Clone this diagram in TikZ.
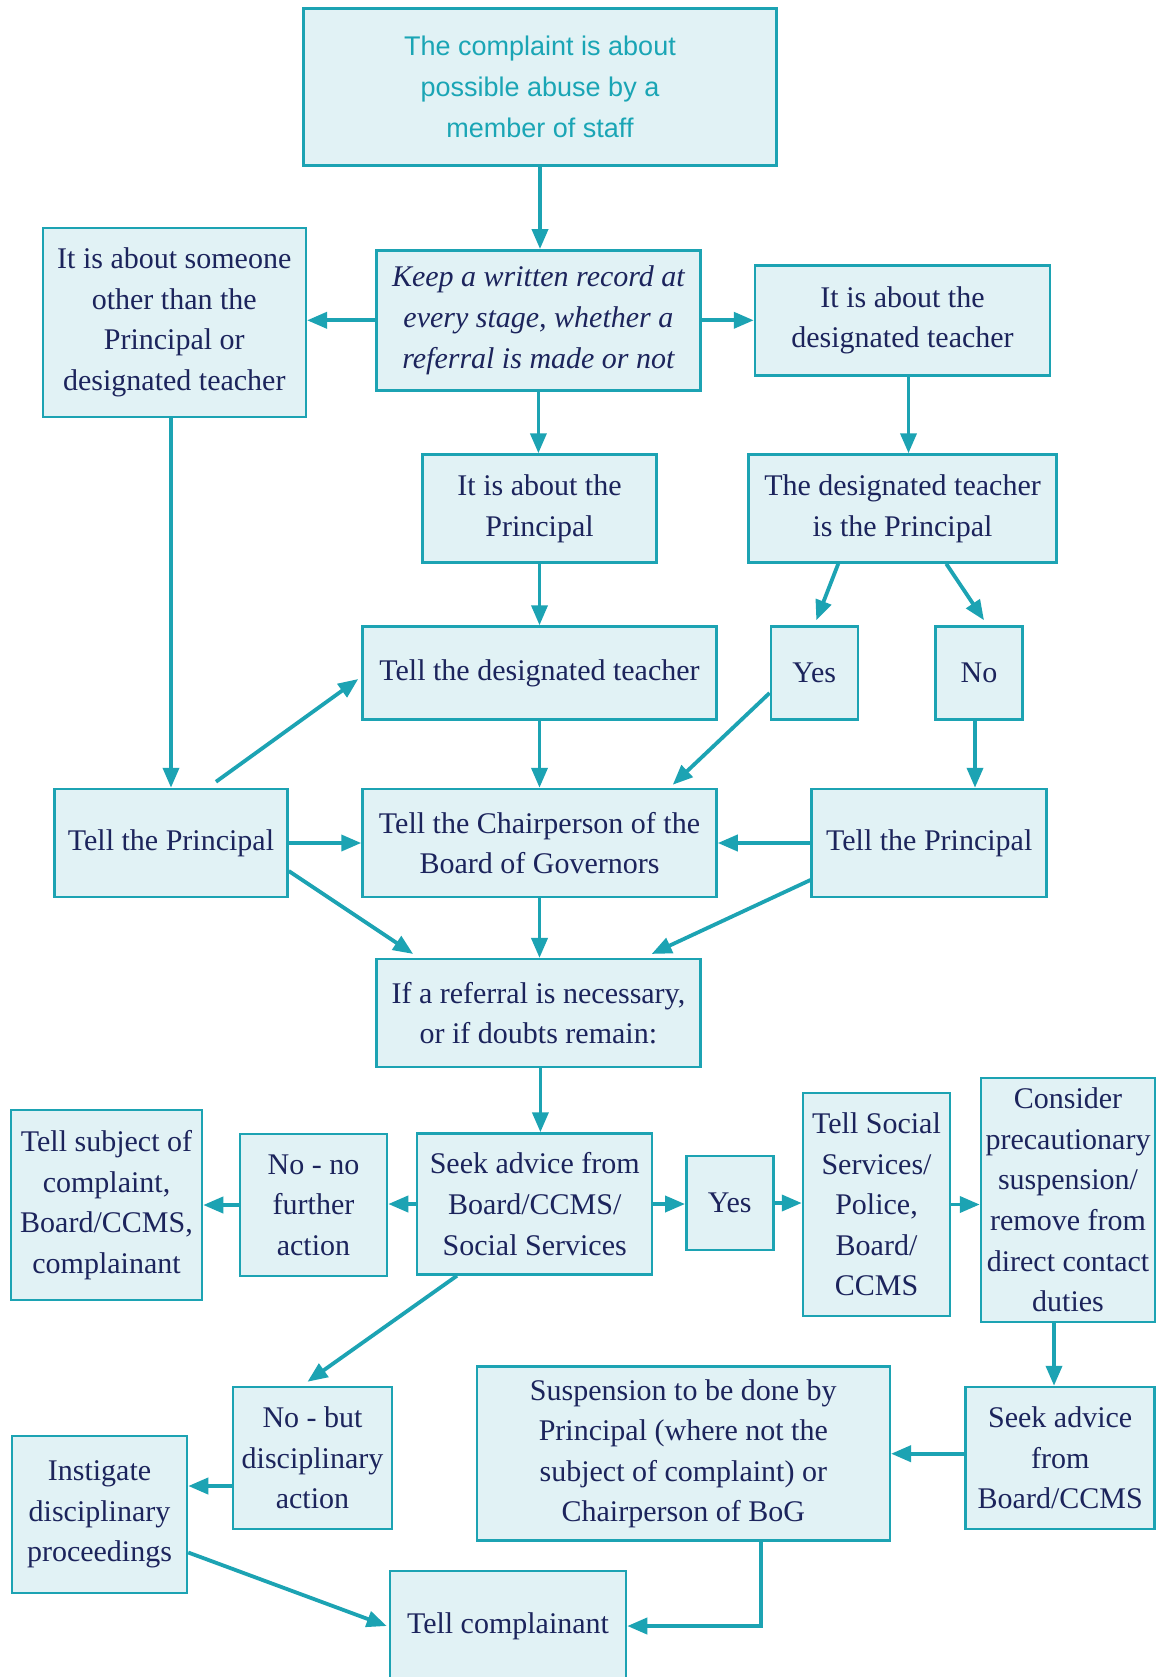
\documentclass[tikz,border=0pt]{standalone}
\usepackage{fontspec}
\setmainfont{Liberation Serif}
\setsansfont{Liberation Sans}
\usetikzlibrary{arrows.meta}
\definecolor{boxfill}{HTML}{E1F2F5}
\definecolor{boxline}{HTML}{1CA3B3}
\definecolor{txt}{HTML}{1C245C}
\definecolor{toptxt}{HTML}{1AA5B5}
\tikzset{
  box/.style={draw=boxline, fill=boxfill, line width=2.5pt, inner sep=0pt, align=center,
    text=txt, font=\fontsize{30}{40.6}\selectfont},
  arr/.style={draw=boxline, line width=3.8pt, -{Triangle[length=20pt,width=16pt]}}
}
\begin{document}
\begin{tikzpicture}[x=1pt,y=-1pt]
\useasboundingbox (0,0) rectangle (1157,1677);
\clip (0,0) rectangle (1157,1677);
\fill[white] (0,0) rectangle (1157,1677);

\node[box, minimum width=473pt, minimum height=157pt, text=toptxt, font=\fontsize{27}{41}\sffamily] (top) at (540,87)
  {The complaint is about\\possible abuse by a\\member of staff};
\node[box, minimum width=324pt, minimum height=140pt, font=\fontsize{30}{40.6}\selectfont\itshape] (keep) at (538.4,320.3)
  {Keep a written record at\\every stage, whether a\\referral is made or not};
\node[box, minimum width=263pt, minimum height=189pt] (someone) at (174.3,322.4)
  {It is about someone\\other than the\\Principal or\\designated teacher};
\node[box, minimum width=295pt, minimum height=110pt] (aboutDT) at (902.5,320.3)
  {It is about the\\designated teacher};
\node[box, minimum width=234pt, minimum height=108pt] (aboutP) at (539.5,508.5)
  {It is about the\\Principal};
\node[box, minimum width=308pt, minimum height=108pt] (dtisP) at (902.5,508.5)
  {The designated teacher\\is the Principal};
\node[box, minimum width=354pt, minimum height=93pt] (tellDT) at (539.5,673)
  {Tell the designated teacher};
\node[box, minimum width=87pt, minimum height=93pt] (yes1) at (814.3,673) {Yes};
\node[box, minimum width=87pt, minimum height=93pt] (no1) at (979,673) {No};
\node[box, minimum width=233pt, minimum height=108pt] (tellPL) at (171,843) {Tell the Principal};
\node[box, minimum width=354pt, minimum height=108pt] (tellCh) at (539.5,843)
  {Tell the Chairperson of the\\Board of Governors};
\node[box, minimum width=235pt, minimum height=108pt] (tellPR) at (929.2,843) {Tell the Principal};
\node[box, minimum width=324pt, minimum height=108pt] (ifRef) at (538.4,1013.2)
  {If a referral is necessary,\\or if doubts remain:};
\node[box, minimum width=235pt, minimum height=141pt] (seek) at (534.7,1204)
  {Seek advice from\\Board/CCMS/\\Social Services};
\node[box, minimum width=147pt, minimum height=142pt] (nono) at (313.5,1205)
  {No - no\\further\\action};
\node[box, minimum width=191pt, minimum height=190pt] (tellSubj) at (106.5,1205)
  {Tell subject of\\complaint,\\Board/CCMS,\\complainant};
\node[box, minimum width=87pt, minimum height=94pt] (yes2) at (729.8,1203) {Yes};
\node[box, minimum width=147pt, minimum height=223pt] (tellSS) at (876.5,1204.5)
  {Tell Social\\Services/\\Police,\\Board/\\CCMS};
\node[box, minimum width=174pt, minimum height=244pt] (consider) at (1068,1200)
  {Consider\\precautionary\\suspension/\\remove from\\direct contact\\duties};
\node[box, minimum width=189pt, minimum height=142pt] (seekB) at (1060.2,1458)
  {Seek advice\\from\\Board/CCMS};
\node[box, minimum width=413pt, minimum height=174pt] (susp) at (683.3,1453.7)
  {Suspension to be done by\\Principal (where not the\\subject of complaint) or\\Chairperson of BoG};
\node[box, minimum width=159pt, minimum height=142pt] (nobut) at (312.5,1458)
  {No - but\\disciplinary\\action};
\node[box, minimum width=175pt, minimum height=157pt] (instig) at (99.5,1514.5)
  {Instigate\\disciplinary\\proceedings};
\node[box, minimum width=236pt, minimum height=110pt] (tellC) at (508,1626) {Tell complainant};

% connectors
\draw[arr] (top.south) -- (top.south |- keep.north);
\draw[arr] (keep.west) -- (keep.west -| someone.east);
\draw[arr] (keep.east) -- (keep.east -| aboutDT.west);
\draw[arr] (keep.south) -- (keep.south |- aboutP.north);
\draw[arr] (tellPL.north |- someone.south) -- (tellPL.north);
\draw[arr] ([xshift=6pt]aboutDT.south) -- ([xshift=6pt]aboutDT.south |- dtisP.north);
\draw[arr] (aboutP.south) -- (aboutP.south |- tellDT.north);
\draw[arr] ([xshift=91pt]dtisP.south west) -- ([xshift=2pt,yshift=5pt]yes1.north);
\draw[arr] ([xshift=199pt]dtisP.south west) -- ([xshift=5pt,yshift=5pt]no1.north);
\draw[arr] ([yshift=-20pt]yes1.west) -- ([xshift=-45pt,yshift=3pt]tellCh.north east);
\draw[arr] ([xshift=-4pt]no1.south) -- ([xshift=-4pt]no1.south |- tellPR.north);
\draw[arr] ([shift={(45pt,6pt)}]tellPL.north) -- ([shift={(-3pt,-6pt)}]tellDT.west);
\draw[arr] (tellDT.south) -- (tellDT.south |- tellCh.north);
\draw[arr] (tellPL.east) -- (tellCh.west);
\draw[arr] (tellPR.west) -- (tellCh.east);
\draw[arr] ([yshift=-28pt]tellPL.east) -- ([shift={(38pt,4pt)}]ifRef.north west);
\draw[arr] (tellCh.south) -- (tellCh.south |- ifRef.north);
\draw[arr] ([yshift=-37pt]tellPR.west) -- ([shift={(-50pt,4pt)}]ifRef.north east);
\draw[arr] ([xshift=2pt]ifRef.south) -- ([xshift=2pt]ifRef.south |- seek.north);
\draw[arr] (seek.west) -- (seek.west -| nono.east);
\draw[arr] (nono.west) -- (nono.west -| tellSubj.east);
\draw[arr] (seek.east) -- (seek.east -| yes2.west);
\draw[arr] (yes2.east) -- (yes2.east -| tellSS.west);
\draw[arr] (tellSS.east) -- (tellSS.east -| consider.west);
\draw[arr] ([xshift=41pt]seek.south west) -- ([shift={(-5pt,4pt)}]nobut.north);
\draw[arr] ([xshift=-14pt]consider.south) -- ([xshift=-14pt]consider.south |- seekB.north);
\draw[arr] (susp.east -| seekB.west) -- (susp.east);
\draw[arr] ([yshift=-28pt]nobut.west) -- ([yshift=-28pt]nobut.west -| instig.east);
\draw[arr] ([yshift=-38pt]instig.east) -- ([xshift=-2pt]tellC.west);
\draw[arr] ([xshift=78pt]susp.south) |- (tellC.east);
\end{tikzpicture}
\end{document}
